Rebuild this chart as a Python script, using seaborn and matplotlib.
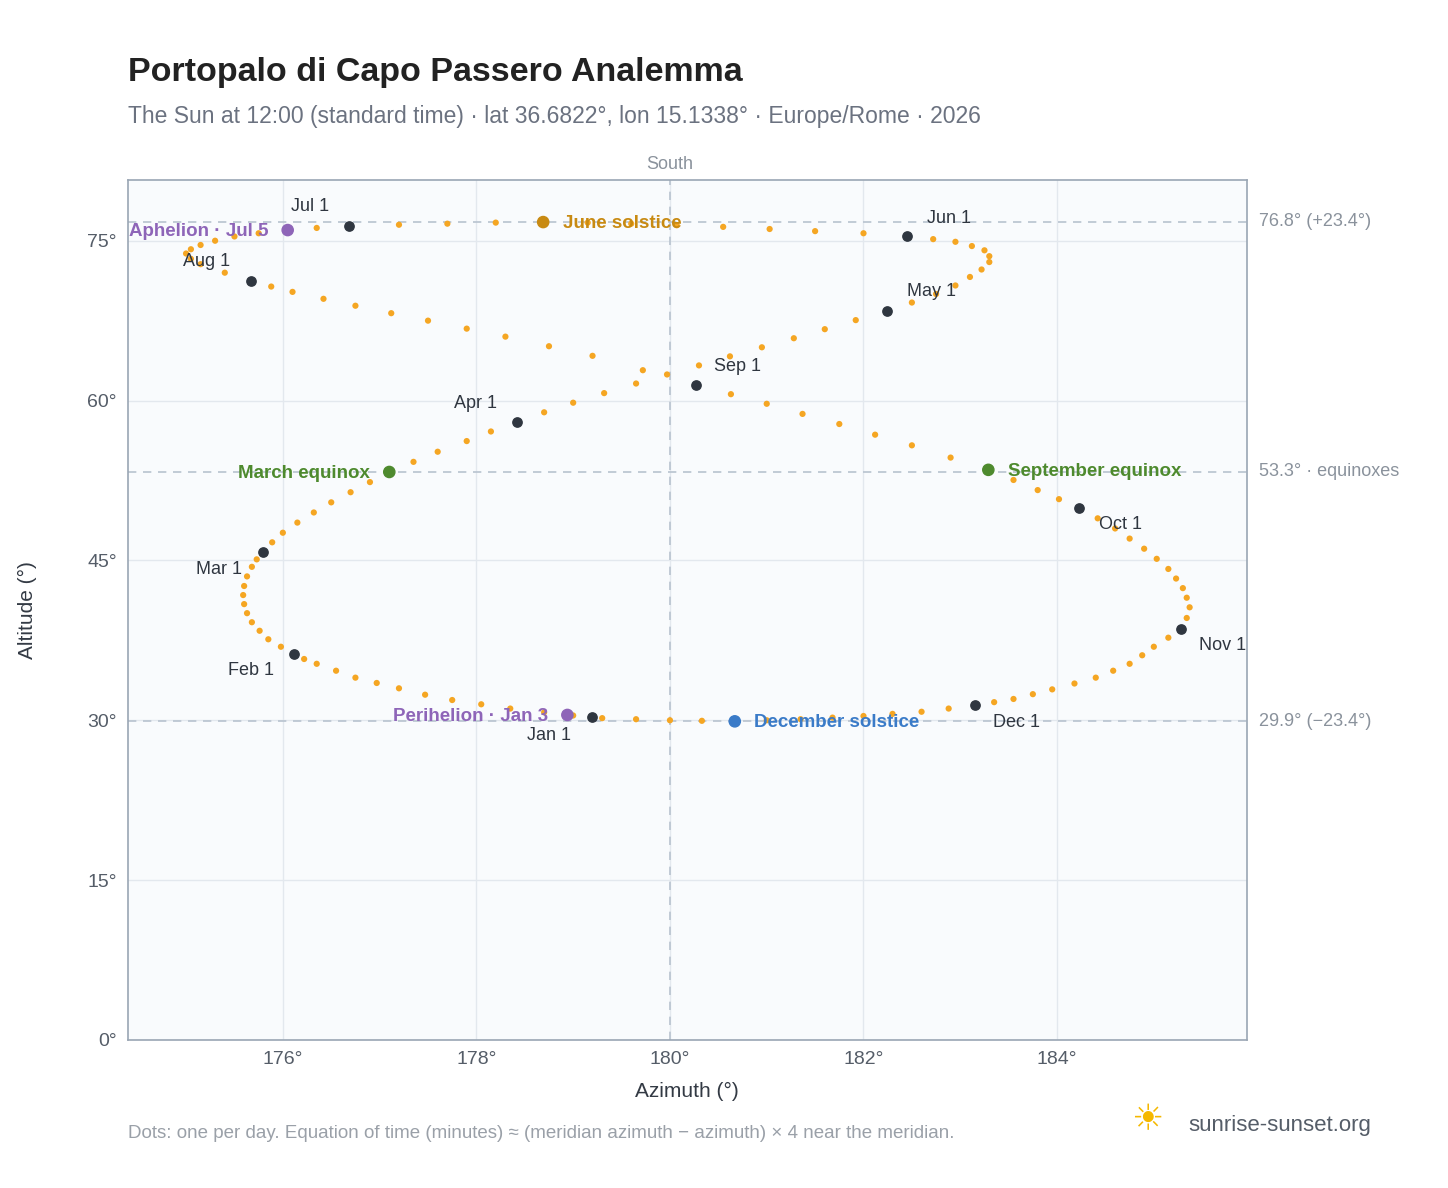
import numpy as np
import pandas as pd
import matplotlib
matplotlib.use("Agg")
import matplotlib.pyplot as plt
import seaborn as sns

# sun positions at noon, Jan 1 -> Dec 31 (azimuth deg, altitude deg)
azimuth = [179.19, 179.0, 178.7, 178.35, 178.05, 177.75, 177.47, 177.2, 176.97, 176.75,
           176.55, 176.35, 176.22, 176.12, 175.98, 175.85, 175.76, 175.68, 175.63, 175.6,
           175.59, 175.6, 175.63, 175.68, 175.73, 175.79, 175.89, 176.0, 176.15, 176.32,
           176.5, 176.7, 176.9, 177.10, 177.35, 177.6, 177.9, 178.15, 178.42, 178.7,
           179.0, 179.32, 179.65, 179.97, 180.3, 180.62, 180.95, 181.28, 181.6, 181.92,
           182.24, 182.5, 182.75, 182.95, 183.1, 183.22, 183.3, 183.3, 183.25, 183.12,
           182.95, 182.72, 182.45, 182.0, 181.5, 181.03, 180.55, 180.07, 179.6, 179.15,
           178.69, 178.2, 177.7, 177.2, 176.68, 176.35, 176.05, 175.75, 175.5, 175.3,
           175.15, 175.05, 175.0, 175.05, 175.15, 175.4, 175.67, 175.88, 176.1, 176.42,
           176.75, 177.12, 177.5, 177.9, 178.3, 178.75, 179.2, 179.72, 180.27, 180.63,
           181.0, 181.37, 181.75, 182.12, 182.5, 182.9, 183.29, 183.55, 183.8, 184.02,
           184.23, 184.42, 184.6, 184.75, 184.9, 185.03, 185.15, 185.23, 185.3, 185.34,
           185.37, 185.34, 185.28, 185.15, 185.0, 184.88, 184.75, 184.58, 184.4, 184.18,
           183.95, 183.75, 183.55, 183.35, 183.15, 182.88, 182.6, 182.3, 182.0, 181.68,
           181.35, 181.0, 180.67, 180.33, 180.0, 179.65, 179.3]
altitude = [30.3, 30.45, 30.75, 31.1, 31.5, 31.9, 32.4, 33.0, 33.5, 34.0,
            34.65, 35.3, 35.75, 36.2, 36.9, 37.6, 38.4, 39.2, 40.05, 40.9,
            41.75, 42.6, 43.5, 44.4, 45.1, 45.8, 46.7, 47.6, 48.55, 49.5,
            50.45, 51.4, 52.35, 53.3, 54.25, 55.2, 56.2, 57.1, 58.0, 58.9,
            59.8, 60.7, 61.6, 62.45, 63.3, 64.15, 65.0, 65.85, 66.7, 67.55,
            68.4, 69.2, 70.0, 70.8, 71.6, 72.3, 73.0, 73.55, 74.1, 74.5,
            74.9, 75.15, 75.4, 75.7, 75.9, 76.1, 76.3, 76.45, 76.6, 76.7,
            76.75, 76.7, 76.6, 76.5, 76.4, 76.2, 76.0, 75.7, 75.4, 75.0,
            74.6, 74.2, 73.8, 73.3, 72.8, 72.0, 71.2, 70.7, 70.2, 69.55,
            68.9, 68.2, 67.5, 66.75, 66.0, 65.1, 64.2, 62.85, 61.5, 60.6,
            59.7, 58.75, 57.8, 56.8, 55.8, 54.65, 53.5, 52.55, 51.6, 50.75,
            49.9, 48.95, 48.0, 47.05, 46.1, 45.15, 44.2, 43.3, 42.4, 41.5,
            40.6, 39.6, 38.6, 37.75, 36.9, 36.1, 35.3, 34.65, 34.0, 33.45,
            32.9, 32.45, 32.0, 31.7, 31.4, 31.1, 30.8, 30.6, 30.4, 30.25,
            30.1, 30.0, 29.9, 29.95, 30.0, 30.1, 30.2]

months = ["Jan 1", "Feb 1", "Mar 1", "Apr 1", "May 1", "Jun 1",
          "Jul 1", "Aug 1", "Sep 1", "Oct 1", "Nov 1", "Dec 1"]
month_az = [179.19, 176.12, 175.79, 178.42, 182.24, 182.45, 176.68, 175.67, 180.27, 184.23, 185.28, 183.15]
month_alt = [30.3, 36.2, 45.8, 58.0, 68.4, 75.4, 76.4, 71.2, 61.5, 49.9, 38.6, 31.4]
month_off = [(-31, -13), (-31, -12), (-31, -13), (-30, 13), (32, 14), (30, 13),
             (-28, 14), (-32, 14), (30, 13), (30, -12), (30, -12), (30, -12)]

events = ["March equinox", "June solstice", "September equinox", "December solstice",
          "Perihelion · Jan 3", "Aphelion · Jul 5"]
event_az = [177.10, 178.69, 183.29, 180.67, 178.94, 176.05]
event_alt = [53.3, 76.75, 53.5, 29.9, 30.5, 76.0]
event_col = ["#4e8a2e", "#c88a12", "#4e8a2e", "#3a7bc8", "#8e65b8", "#8e65b8"]
event_side = ["left", "right", "right", "right", "left", "left"]

ref_alt = [76.8, 53.3, 29.9]
ref_lab = ["76.8° (+23.4°)", "53.3° · equinoxes", "29.9° (−23.4°)"]

sns.set_theme(style="whitegrid")
plt.rcParams["font.family"] = ["Liberation Sans", "DejaVu Sans"]

fig = plt.figure(figsize=(14.48, 11.88), dpi=100)
ax = fig.add_axes([0.0884, 0.1246, 0.7726, 0.7239])
ax.set_facecolor("#f9fbfd")
for s in ax.spines.values():
    s.set_color("#9aa6b4")
    s.set_linewidth(1.2)
ax.grid(color="#e3e8ee", linewidth=1)

df = pd.DataFrame({"az": azimuth, "alt": altitude})
sns.scatterplot(data=df, x="az", y="alt", ax=ax, color="#f5a623", s=20,
                edgecolor="none", zorder=3)

for a in ref_alt:
    ax.axhline(a, color="#b8c3cf", ls=(0, (5, 4)), lw=1.2, zorder=1)
ax.axvline(180, color="#b8c3cf", ls=(0, (5, 4)), lw=1.2, zorder=1)

ax.scatter(month_az, month_alt, s=45, color="#2f3640", zorder=5)
for lab, x, y, (dx, dy) in zip(months, month_az, month_alt, month_off):
    ax.annotate(lab, (x, y), xytext=(dx, dy), textcoords="offset points",
                ha="center", va="center", fontsize=13, color="#2f3640", zorder=6)

ax.scatter(event_az, event_alt, s=65, color=event_col, zorder=5)
for lab, x, y, c, side in zip(events, event_az, event_alt, event_col, event_side):
    dx = -14 if side == "left" else 14
    ax.annotate(lab, (x, y), xytext=(dx, -1), textcoords="offset points",
                ha="right" if side == "left" else "left", va="center", fontsize=13.5,
                fontweight="bold", color=c, zorder=6, annotation_clip=False)

ax.set_xlim(174.4, 185.96)
ax.set_ylim(0, 80.7)
ax.set_xticks([176, 178, 180, 182, 184])
ax.set_xticklabels([f"{t}°" for t in [176, 178, 180, 182, 184]])
ax.set_yticks([0, 15, 30, 45, 60, 75])
ax.set_yticklabels([f"{t}°" for t in [0, 15, 30, 45, 60, 75]])
ax.tick_params(labelsize=14, colors="#555d68", length=0, pad=8)
ax.set_xlabel("Azimuth (°)", fontsize=15, color="#333a44", labelpad=10)
ax.set_ylabel("Altitude (°)", fontsize=15, color="#333a44", labelpad=36)

for a, lab in zip(ref_alt, ref_lab):
    ax.text(1.011, a, lab, transform=ax.get_yaxis_transform(), fontsize=13,
            color="#8a929c", va="center", ha="left")
ax.text(180, 1.008, "South", transform=ax.get_xaxis_transform(), fontsize=13,
        color="#8a929c", ha="center", va="bottom")

fig.text(0.0884, 0.939, "Portopalo di Capo Passero Analemma", fontsize=24.5,
         fontweight="bold", color="#222222", va="center")
fig.text(0.0884, 0.902, "The Sun at 12:00 (standard time) · lat 36.6822°, lon 15.1338° · Europe/Rome · 2026",
         fontsize=16.5, color="#6b7280", va="center")
fig.text(0.0884, 0.046, "Dots: one per day. Equation of time (minutes) ≈ (meridian azimuth − azimuth) × 4 near the meridian.",
         fontsize=13.5, color="#9aa0a8", va="center")
fig.text(0.821, 0.053, "sunrise-sunset.org", fontsize=16, color="#555d68", va="center")
fig.text(0.792, 0.057, "☀", fontsize=26, color="#f5b800", va="center", ha="center")

fig.savefig("out.png", dpi=100)
